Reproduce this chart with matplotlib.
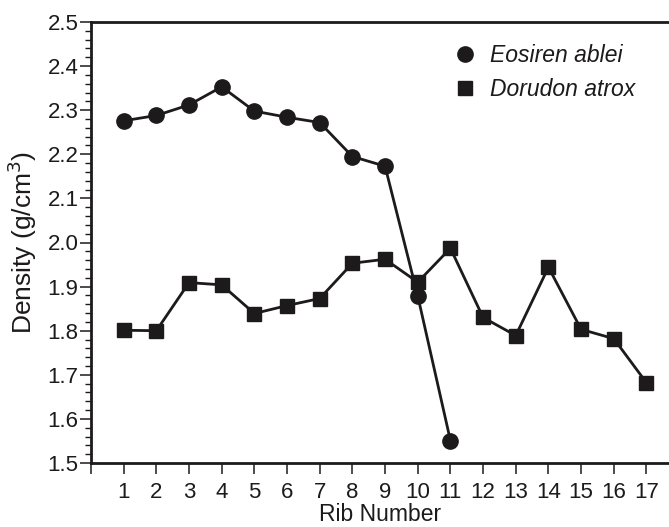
import matplotlib
matplotlib.use("Agg")
import matplotlib.pyplot as plt
from matplotlib.lines import Line2D
from matplotlib.ticker import MultipleLocator

# Rib bone density by rib number
ribs_eosiren = [1, 2, 3, 4, 5, 6, 7, 8, 9, 10, 11]
density_eosiren = [2.276, 2.288, 2.312, 2.353, 2.298, 2.284, 2.272, 2.195, 2.173, 1.879, 1.551]

ribs_dorudon = [1, 2, 3, 4, 5, 6, 7, 8, 9, 10, 11, 12, 13, 14, 15, 16, 17]
density_dorudon = [1.801, 1.800, 1.909, 1.904, 1.839, 1.857, 1.873, 1.953, 1.962, 1.910,
                   1.987, 1.830, 1.789, 1.944, 1.803, 1.782, 1.682]

series_names = ["Eosiren ablei", "Dorudon atrox"]
x_ticks = list(range(0, 18))
x_ticklabels = [""] + [str(i) for i in range(1, 18)]
y_ticks = [1.5, 1.6, 1.7, 1.8, 1.9, 2.0, 2.1, 2.2, 2.3, 2.4, 2.5]

INK = "#1c1a1b"
SANS = ["Liberation Sans", "DejaVu Sans"]

plt.rcParams["font.family"] = SANS
plt.rcParams["text.color"] = INK
plt.rcParams["axes.labelcolor"] = INK
plt.rcParams["xtick.color"] = INK
plt.rcParams["ytick.color"] = INK

fig = plt.figure(figsize=(6.69, 5.27), dpi=100)
ax = fig.add_axes([91 / 669, 1 - 463 / 527, 1 - 91 / 669, (463 - 22) / 527])

ax.plot(ribs_eosiren, density_eosiren, color=INK, lw=2.0, marker="o", ms=11,
        mfc=INK, mec=INK, zorder=3)
ax.plot(ribs_dorudon, density_dorudon, color=INK, lw=2.0, marker="s", ms=10.5,
        mfc=INK, mec=INK, zorder=3)

ax.set_xlim(0, 17.69)
ax.set_ylim(1.5, 2.5)

ax.set_xticks(x_ticks)
ax.set_xticklabels(x_ticklabels, fontsize=16)
ax.set_yticks(y_ticks)
ax.set_yticklabels([f"{v:.1f}" for v in y_ticks], fontsize=16)
ax.yaxis.set_minor_locator(MultipleLocator(0.02))

ax.tick_params(axis="x", which="major", direction="out", length=8, width=1.1, pad=6)
ax.tick_params(axis="y", which="major", direction="out", length=8, width=1.1, pad=1)
ax.tick_params(axis="y", which="minor", direction="out", length=4.5, width=1.0)

for side in ("left", "bottom", "top"):
    ax.spines[side].set_linewidth(2.0)
    ax.spines[side].set_color(INK)
ax.spines["right"].set_visible(False)

ax.set_xlabel("Rib Number", fontsize=16.5, labelpad=0)
ax.set_ylabel("Density (g/cm$^3$)", fontsize=19, labelpad=6)

handles = [
    Line2D([], [], linestyle="none", marker="o", ms=11, mfc=INK, mec=INK),
    Line2D([], [], linestyle="none", marker="s", ms=10.5, mfc=INK, mec=INK),
]
ax.legend(handles, series_names, loc="upper left", bbox_to_anchor=(0.607, 0.975),
          frameon=False, handlelength=1.0, handletextpad=0.6, labelspacing=0.45,
          borderpad=0, prop={"style": "italic", "size": 16.5})

fig.savefig("out.png", dpi=100)
